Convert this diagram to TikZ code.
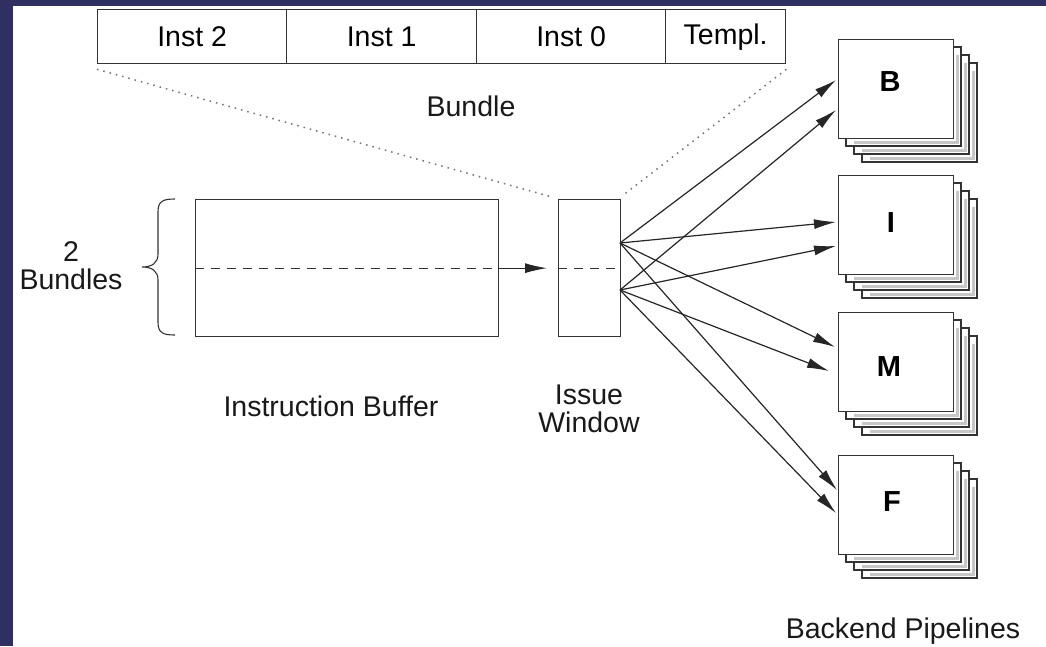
\documentclass[tikz,border=0pt]{standalone}
\usepackage{fontspec}
\setmainfont{Liberation Sans}
\usetikzlibrary{arrows.meta}
\definecolor{navy}{RGB}{47,47,98}
\newcommand\pipebox[6]{%
  \foreach \o in {24,16,8}{%
    \draw[box, fill=white] (#2+\o,#3+\o) rectangle ++(115,99);
    \draw[black!22, line width=2.5pt] (#2+\o+111.5,#3+\o+8) -- (#2+\o+111.5,#3+\o+95.5) -- (#2+\o+8,#3+\o+95.5);
  }
  \node[box, fill=white, minimum width=115pt, minimum height=99pt, anchor=north west, inner sep=0pt] (#1) at (#2,#3) {};
  \node[bold] (#1lab) at (#5,#6) {#4};
}
\begin{document}
\begin{tikzpicture}[x=1pt,y=-1pt,
  txt/.style={font=\fontsize{28.5}{28}\selectfont, inner sep=0pt, text=black!90},
  bold/.style={font=\fontsize{29}{32}\selectfont\bfseries, inner sep=0pt},
  box/.style={draw=black!80, line width=1.3pt},
  cell/.style={box, minimum height=54pt, anchor=north west, inner sep=0pt, font=\fontsize{28.5}{32}\selectfont},
  arr/.style={draw=black!85, line width=1.2pt, -{Latex[length=22pt,width=10pt]}},
  dotl/.style={draw=black!55, line width=1.5pt, dash pattern=on 1.5pt off 5pt},
  dsh/.style={draw=black!80, line width=1.2pt, dash pattern=on 9pt off 7pt},
]
\useasboundingbox (0,0) rectangle (1046,646);
\fill[white] (0,0) rectangle (1046,646);
\fill[navy] (0,0) rectangle (13,646);
\fill[navy] (0,0) rectangle (1046,6);

% bundle
\node[cell, minimum width=189pt] (c2) at (97,9) {Inst 2};
\node[cell, minimum width=190pt] (c1) at (286,9) {Inst 1};
\node[cell, minimum width=189pt] (c0) at (476,9) {Inst 0};
\node[cell, minimum width=120pt] (ct) at (665,9) {Templ.};
\node[txt] (bundlelab) at (471,106) {Bundle};

% buffer and window
\node[box, minimum width=303pt, minimum height=137pt, anchor=north west, inner sep=0pt] (buf) at (195,199) {};
\node[box, minimum width=62pt, minimum height=137pt, anchor=north west, inner sep=0pt] (win) at (558,199) {};
\draw[dsh] (buf.west) -- (buf.east);
\draw[dsh] (win.west) -- (win.east);
\draw[arr, shorten >=11pt] (buf.east) -- (win.west);

\draw[dotl] ([yshift=-5pt]c2.south west) -- ([xshift=-6pt,yshift=2pt]win.north west);
\draw[dotl] ([yshift=-5pt]ct.south east) -- ([xshift=2pt,yshift=4pt]win.north east);

% brace
\coordinate (brt) at (175,199);
\coordinate (brb) at (175,335);
\draw[box, line width=1.1pt] (brt) .. controls (163,199) and (158,201) .. (158,212) -- (158,254)
  .. controls (158,263) and (152,267) .. (142,267)
  .. controls (152,267) and (158,271) .. (158,280) -- (158,322)
  .. controls (158,333) and (163,335) .. (brb);
\node[txt, align=center] (two) at (71,266) {2\\Bundles};

\node[txt] (buflab) at (331,406) {Instruction Buffer};
\node[txt, align=center] (winlab) at (589,409) {Issue\\Window};

% pipelines
\pipebox{B}{838}{39}{B}{890}{82}
\pipebox{I}{838}{175}{I}{891}{223}
\pipebox{M}{838}{312}{M}{889}{367}
\pipebox{F}{838}{455}{F}{892}{502}
\node[txt] (belab) at (903,631) {Backend Pipelines};

% arrows
\coordinate (su) at (620,243);
\coordinate (sl) at (620,290);
\coordinate (bu) at (836,80);
\coordinate (bl) at (836,110);
\coordinate (iu) at (836,222);
\coordinate (il) at (836,246);
\coordinate (mu) at (835,347);
\coordinate (ml) at (829,371);
\coordinate (fu) at (837,490);
\coordinate (fl) at (836,513);
\draw[arr] (su) -- (bu);
\draw[arr] (su) -- (iu);
\draw[arr] (su) -- (mu);
\draw[arr] (su) -- (fu);
\draw[arr] (sl) -- (bl);
\draw[arr] (sl) -- (il);
\draw[arr] (sl) -- (ml);
\draw[arr] (sl) -- (fl);
\end{tikzpicture}
\end{document}
